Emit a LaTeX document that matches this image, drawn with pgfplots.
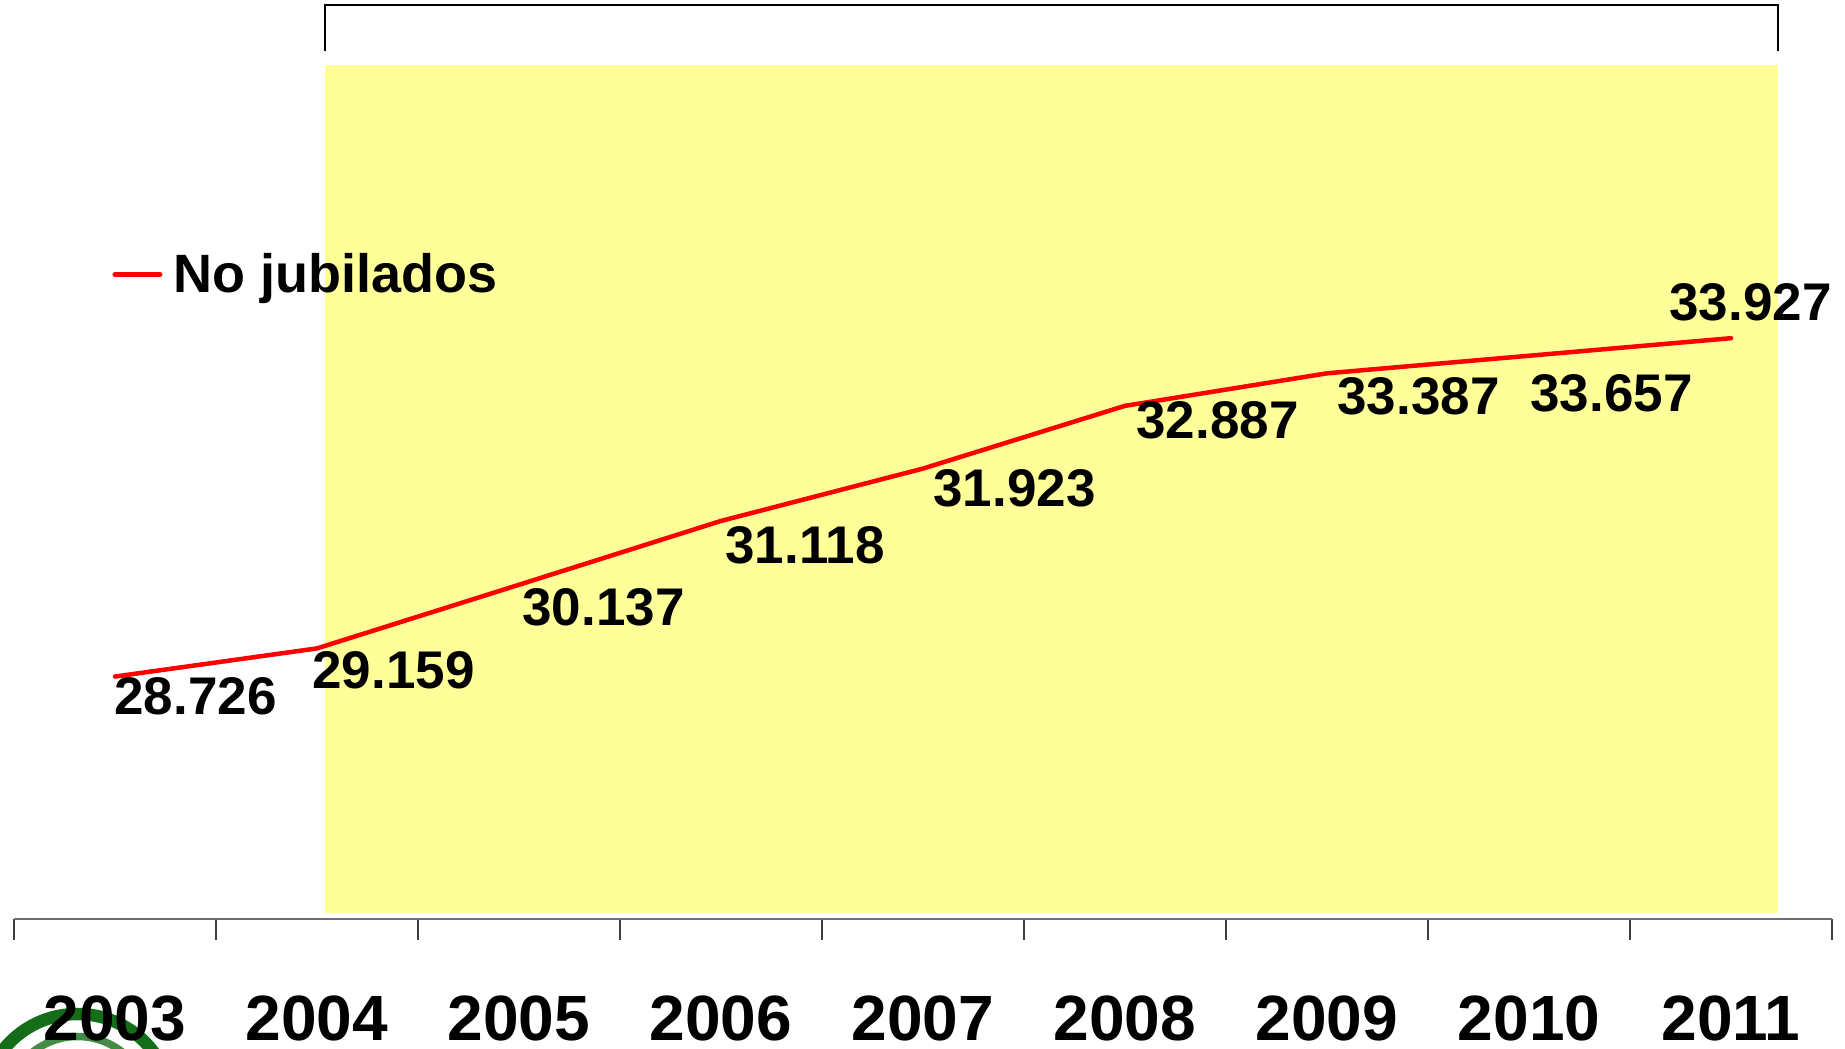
\documentclass[border=0pt]{standalone}
\usepackage{pgfplots}
\pgfplotsset{compat=1.18}
\usepackage{fontspec}
\setmainfont{Liberation Sans}
\definecolor{bgyellow}{RGB}{255,255,153}
\definecolor{logogreen}{RGB}{20,110,25}
\definecolor{axgray}{RGB}{110,110,110}
\begin{document}
\begin{tikzpicture}
\path[use as bounding box] (0,0) rectangle (738pt,419.6pt);
\begin{scope}
\clip (0,0) rectangle (738pt,419.6pt);
\draw[logogreen, line width=5pt] (31pt,-24pt) circle (38pt);
\draw[logogreen!80, line width=3pt] (31pt,-24pt) circle (29pt);
\end{scope}
\begin{axis}[
  at={(5.6pt,52pt)}, anchor=south west,
  scale only axis,
  width=727.2pt, height=367.6pt,
  xmin=-0.5, xmax=8.5, ymin=25, ymax=39.125,
  clip=false,
  axis x line*=bottom,
  hide y axis,
  x axis line style={axgray, line width=0.9pt, -},
  xtick={0,...,8},
  xticklabels={2003,2004,2005,2006,2007,2008,2009,2010,2011},
  major tick length=0pt,
  minor xtick={-0.5,0.5,...,8.5},
  minor tick length=8.4pt,
  tick align=outside,
  xtick pos=bottom,
  minor tick style={black!75, line width=0.5pt},
  typeset ticklabels with strut=false,
  xticklabel style={anchor=north, inner sep=0pt, yshift=-27.6pt,
    font=\bfseries\fontsize{25.6}{30}\selectfont},
  legend style={at={(rel axis cs:0.0539,0.701)}, anchor=west, draw=none, fill=none,
    inner sep=0pt, font=\bfseries\fontsize{21.6}{26}\selectfont},
  legend image code/.code={\draw[#1, line width=2pt, line cap=round] (0pt,0pt) -- (18pt,0pt);},
]
\fill[bgyellow] (axis cs:1.040,25.092) rectangle (axis cs:8.233,38.126);
\draw[black, line width=1.1pt] (axis cs:1.040,38.341) -- (axis cs:1.040,39.048) -- (axis cs:8.233,39.048) -- (axis cs:8.233,38.341);
\addplot[red, line width=1.8pt, line join=round, line cap=round] coordinates {
  (0,28.726) (1,29.159) (2,30.137) (3,31.118) (4,31.923)
  (5,32.887) (6,33.387) (7,33.657) (8,33.927)
};
\addlegendentry{\hspace{2.4pt}No jubilados}
\begin{scope}[every node/.style={inner sep=0pt, font=\bfseries\fontsize{21.2}{25}\selectfont}]
\node[anchor=north west, xshift=-0.4pt] at (axis cs:0,28.726) {28.726};
\node[anchor=north west, xshift=-2pt, yshift=-1.2pt] at (axis cs:1,29.159) {29.159};
\node[anchor=north west, xshift=1.2pt, yshift=-1.2pt] at (axis cs:2,30.137) {30.137};
\node[anchor=north west, xshift=1.6pt, yshift=-2pt] at (axis cs:3,31.118) {31.118};
\node[anchor=north west, xshift=4pt] at (axis cs:4,31.923) {31.923};
\node[anchor=north west, xshift=4.4pt, yshift=2pt] at (axis cs:5,32.887) {32.887};
\node[anchor=north west, xshift=4pt, yshift=-1.6pt] at (axis cs:6,33.387) {33.387};
\node[anchor=north west, xshift=0.4pt, yshift=-7.2pt] at (axis cs:7,33.657) {33.657};
\node[anchor=south west, xshift=-24.8pt, yshift=6.8pt] at (axis cs:8,33.927) {33.927};
\end{scope}
\end{axis}
\end{tikzpicture}
\end{document}
